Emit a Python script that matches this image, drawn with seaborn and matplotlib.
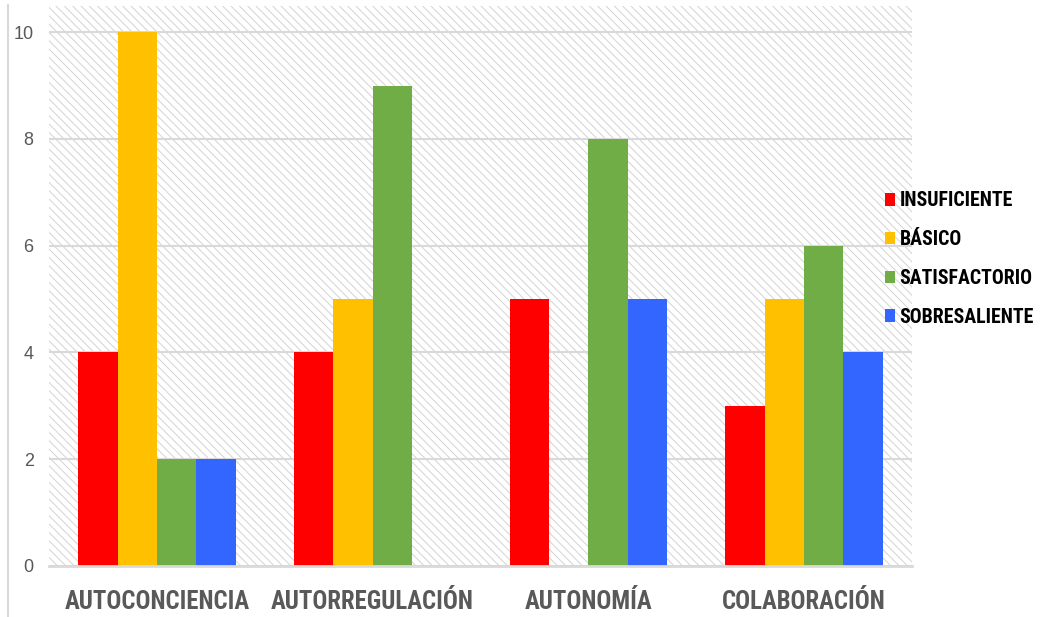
import pandas as pd
import numpy as np
import matplotlib
matplotlib.use('Agg')
import matplotlib.pyplot as plt
import matplotlib.font_manager as fm
import seaborn as sns
from matplotlib.patches import Rectangle
from matplotlib.lines import Line2D

categories = ['AUTOCONCIENCIA', 'AUTORREGULACIÓN', 'AUTONOMÍA', 'COLABORACIÓN']
levels = ['INSUFICIENTE', 'BÁSICO', 'SATISFACTORIO', 'SOBRESALIENTE']
insuficiente = [4, 4, 5, 3]
basico = [10, 5, 0, 5]
satisfactorio = [2, 9, 8, 6]
sobresaliente = [2, 0, 5, 4]
colors = ['#FF0000', '#FFC000', '#70AD47', '#3366FF']
yticks = [0, 2, 4, 6, 8, 10]

df = pd.DataFrame({'cat': categories, levels[0]: insuficiente, levels[1]: basico,
                   levels[2]: satisfactorio, levels[3]: sobresaliente})
melt_df = pd.melt(df, id_vars=['cat'], var_name='nivel', value_name='valor')

# look for a narrow font, else Liberation Sans (Arial metrics)
names = set(f.name for f in fm.fontManager.ttflist)
narrow = None
for cand in ['Liberation Sans Narrow', 'Roboto Condensed', 'DejaVu Sans Condensed']:
    if cand in names:
        narrow = cand
        break
base_font = 'Liberation Sans' if 'Liberation Sans' in names else 'DejaVu Sans'
label_font = narrow if narrow else base_font
xsize = 17.8 if narrow else 14.5
lsize = 14.3 if narrow else 11.5

sns.set_style('white')
plt.rcParams['font.family'] = [label_font, 'DejaVu Sans']
plt.rcParams['hatch.linewidth'] = 0.7
plt.rcParams['hatch.color'] = '#d3d3d3'

fig = plt.figure(figsize=(10.47, 6.17), dpi=100)
ax = fig.add_axes([49/1047, 1-566/617, 863/1047, 560/617])

# hatched background
ax.add_patch(Rectangle((0, 0), 1, 1, transform=ax.transAxes, facecolor='white',
                       edgecolor='#d3d3d3', hatch='\\\\\\\\', linewidth=0, zorder=0))

sns.barplot(x='cat', y='valor', hue='nivel', data=melt_df, palette=colors,
            width=0.73, linewidth=0, saturation=1, ax=ax, zorder=3, legend=False)

ax.set_xlim(-0.5, 3.5)
ax.set_ylim(0, 10.49)
ax.set_yticks(yticks)
ax.yaxis.grid(True, color='#d9d9d9', linewidth=1.5, zorder=1)
ax.set_axisbelow(False)
for l in ax.get_ygridlines():
    l.set_zorder(1)
ax.set_xlabel('')
ax.set_ylabel('')
for s in ['top', 'right', 'left']:
    ax.spines[s].set_visible(False)
ax.spines['bottom'].set_color('#d9d9d9')
ax.spines['bottom'].set_linewidth(2)
ax.spines['bottom'].set_zorder(4)
ax.tick_params(axis='x', length=0, pad=17, labelsize=xsize, labelcolor='#595959')
ax.tick_params(axis='y', length=0, pad=11, labelsize=13, labelcolor='#595959')
for t in ax.get_xticklabels():
    t.set_fontweight('bold')
for t in ax.get_yticklabels():
    t.set_family([base_font, 'DejaVu Sans'])

handles = [Rectangle((0, 0), 1, 1, facecolor=c, linewidth=0) for c in colors]
leg = fig.legend(handles, levels, loc='center left', bbox_to_anchor=(885/1047, 1-259/617),
                 frameon=False, borderpad=0, borderaxespad=0, handlelength=0.48,
                 handleheight=0.6, handletextpad=0.25, labelspacing=1.0,
                 prop={'size': lsize, 'weight': 'bold'}, labelcolor='black')

fig.add_artist(Line2D([7.5/1047, 7.5/1047], [0, 1-5/617], color='#d9d9d9', linewidth=1.5,
                      transform=fig.transFigure))

plt.savefig('out.png', dpi=100)
